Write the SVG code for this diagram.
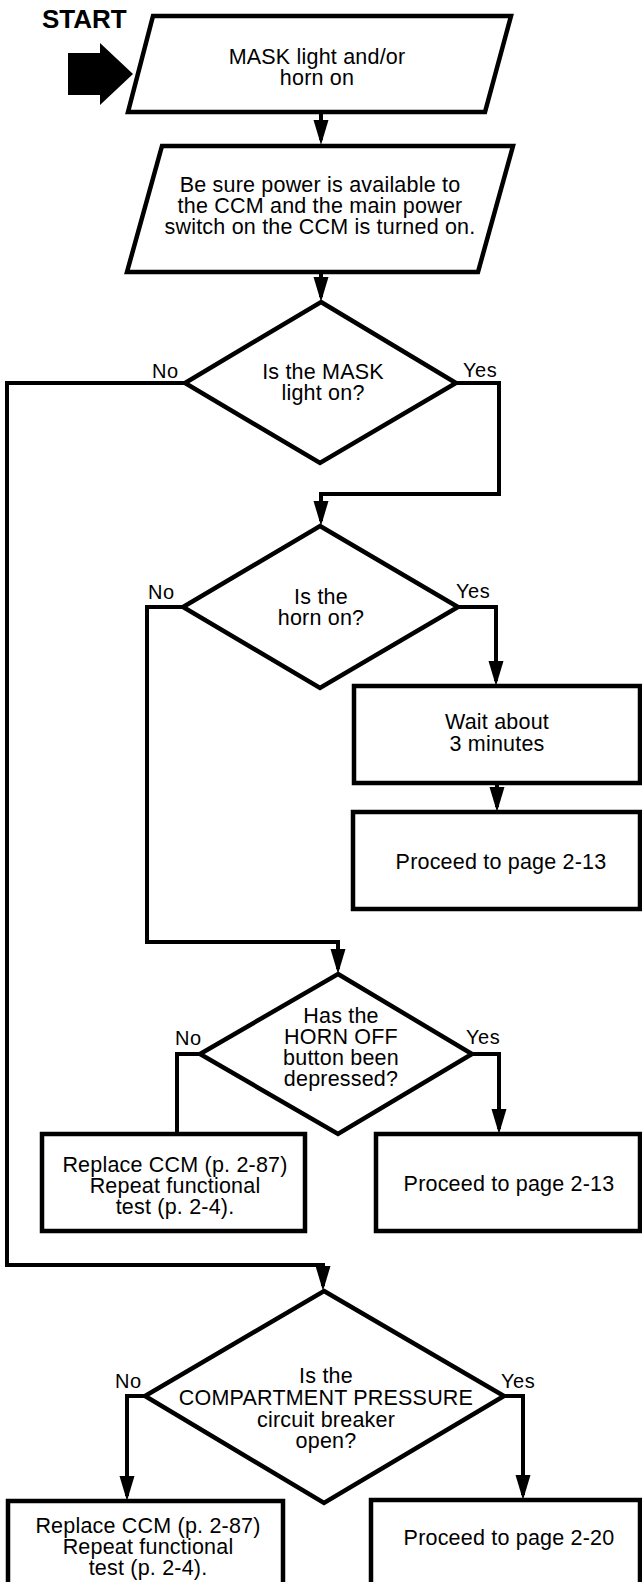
<svg xmlns="http://www.w3.org/2000/svg" xmlns:xlink="http://www.w3.org/1999/xlink" width="642" height="1582" viewBox="0 0 642 1582">
<style>
.shape{fill:#fff;stroke:#000;stroke-width:4.5;stroke-linejoin:miter}
.conn{fill:none;stroke:#000;stroke-width:4;stroke-linejoin:miter}
.t{font-family:"Liberation Sans",Arial,Helvetica,sans-serif;font-size:21.5px;letter-spacing:0.2px;fill:#000;text-anchor:middle}
.lbl{font-family:"Liberation Sans",Arial,Helvetica,sans-serif;font-size:20px;letter-spacing:0.5px;fill:#000}
.start{font-family:"Liberation Sans",Arial,Helvetica,sans-serif;font-size:26px;font-weight:bold;fill:#000}
</style>
<defs>
<path id="ah" d="M-7.5,-25 L7.5,-25 L0,0 Z" fill="#000"/>
</defs>
<rect width="642" height="1582" fill="#fff"/>

<g id="start">
<text class="start" x="42" y="28">START</text>
<polygon points="68,53 100,53 100,43 133,74 100,105 100,95 68,95" fill="#000"/>
</g>

<g id="connectors">
<path class="conn" d="M321,112 V140"/>
<use xlink:href="#ah" x="321" y="145"/>
<path class="conn" d="M321,272 V297"/>
<use xlink:href="#ah" x="321" y="302"/>
<path class="conn" d="M456,383 H499 V494 H321 V521"/>
<use xlink:href="#ah" x="321" y="526"/>
<path class="conn" d="M185,383 H7 V1265 H323 V1286"/>
<use xlink:href="#ah" x="323" y="1291"/>
<path class="conn" d="M458,607 H496 V681"/>
<use xlink:href="#ah" x="496" y="686"/>
<path class="conn" d="M183,607 H147 V942 H338 V969"/>
<use xlink:href="#ah" x="338" y="974"/>
<path class="conn" d="M497,783 V807"/>
<use xlink:href="#ah" x="497" y="812"/>
<path class="conn" d="M200,1054 H177 V1134"/>
<path class="conn" d="M472,1054 H499 V1129"/>
<use xlink:href="#ah" x="499" y="1134"/>
<path class="conn" d="M145,1396 H127 V1496"/>
<use xlink:href="#ah" x="127" y="1501"/>
<path class="conn" d="M504,1396 H523 V1495"/>
<use xlink:href="#ah" x="523" y="1500"/>
</g>

<g id="n1">
<polygon class="shape" points="153,16 511,16 485,112 128,112"/>
<text class="t" x="317" y="64">MASK light and/or</text>
<text class="t" x="317" y="85">horn on</text>
</g>

<g id="n2">
<polygon class="shape" points="162,146 513,146 478,272 127,272"/>
<text class="t" x="320" y="192">Be sure power is available to</text>
<text class="t" x="320" y="213">the CCM and the main power</text>
<text class="t" x="320" y="234">switch on the CCM is turned on.</text>
</g>

<g id="d1">
<polygon class="shape" points="321,302 456,383 320,463 185,383"/>
<text class="t" x="323" y="379">Is the MASK</text>
<text class="t" x="323" y="400">light on?</text>
<text class="lbl" x="152" y="378">No</text>
<text class="lbl" x="463" y="377">Yes</text>
</g>

<g id="d2">
<polygon class="shape" points="320,526 458,607 320,688 183,607"/>
<text class="t" x="321" y="604">Is the</text>
<text class="t" x="321" y="625">horn on?</text>
<text class="lbl" x="148" y="599">No</text>
<text class="lbl" x="456" y="598">Yes</text>
</g>

<g id="b1">
<rect class="shape" x="354" y="686" width="286" height="97"/>
<text class="t" x="497" y="729">Wait about</text>
<text class="t" x="497" y="751">3 minutes</text>
</g>

<g id="b2">
<rect class="shape" x="353" y="812" width="287" height="97"/>
<text class="t" x="501" y="869">Proceed to page 2-13</text>
</g>

<g id="d3">
<polygon class="shape" points="338,974 472,1054 338,1134 200,1054"/>
<text class="t" x="341" y="1023">Has the</text>
<text class="t" x="341" y="1044">HORN OFF</text>
<text class="t" x="341" y="1065">button been</text>
<text class="t" x="341" y="1086">depressed?</text>
<text class="lbl" x="175" y="1045">No</text>
<text class="lbl" x="466" y="1044">Yes</text>
</g>

<g id="b3">
<rect class="shape" x="42" y="1134" width="263" height="97"/>
<text class="t" x="175" y="1172">Replace CCM (p. 2-87)</text>
<text class="t" x="175" y="1193">Repeat functional</text>
<text class="t" x="175" y="1214">test (p. 2-4).</text>
</g>

<g id="b4">
<rect class="shape" x="376" y="1134" width="264" height="97"/>
<text class="t" x="509" y="1191">Proceed to page 2-13</text>
</g>

<g id="d4">
<polygon class="shape" points="324,1291 504,1396 324,1503 145,1396"/>
<text class="t" x="326" y="1383">Is the</text>
<text class="t" x="326" y="1405">COMPARTMENT PRESSURE</text>
<text class="t" x="326" y="1427">circuit breaker</text>
<text class="t" x="326" y="1448">open?</text>
<text class="lbl" x="115" y="1388">No</text>
<text class="lbl" x="501" y="1388">Yes</text>
</g>

<g id="b5">
<rect class="shape" x="8" y="1501" width="275" height="90"/>
<text class="t" x="148" y="1533">Replace CCM (p. 2-87)</text>
<text class="t" x="148" y="1554">Repeat functional</text>
<text class="t" x="148" y="1575">test (p. 2-4).</text>
</g>

<g id="b6">
<rect class="shape" x="371" y="1500" width="269" height="91"/>
<text class="t" x="509" y="1545">Proceed to page 2-20</text>
</g>
</svg>
